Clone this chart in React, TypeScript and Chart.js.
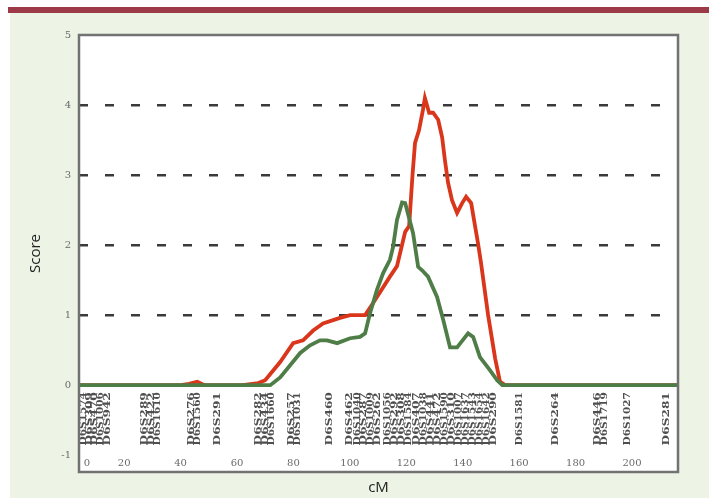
import React, { useEffect, useRef } from "react";
import { Chart, registerables } from "chart.js";

Chart.register(...registerables);

// ---- data ----
const redCM = [4, 40, 43, 45.9, 48.5, 62, 67.5, 70, 75.3, 79.9, 83.4, 87, 90.5, 96.5, 100.1, 105.4, 108.2, 114.2, 116.7, 119.6, 121.0, 122.2, 123.1, 124.5, 125.9, 126.6, 128.1, 129.5, 131.3, 132.7, 133.7, 134.8, 136.2, 138.0, 139.8, 141.2, 143.0, 144.0, 145.4, 146.5, 149.0, 151.5, 153.2, 155, 216.3];
const redScore = [0, 0, 0.02, 0.05, 0, 0, 0.03, 0.07, 0.33, 0.6, 0.64, 0.78, 0.88, 0.96, 1.0, 1.0, 1.17, 1.55, 1.7, 2.19, 2.27, 3.0, 3.46, 3.64, 3.93, 4.1, 3.89, 3.89, 3.79, 3.54, 3.21, 2.89, 2.64, 2.46, 2.6, 2.69, 2.6, 2.36, 2.03, 1.74, 1.0, 0.38, 0.05, 0, 0];

const greenCM = [4, 66, 71.8, 75.3, 82.4, 85.9, 89.4, 91.9, 95.5, 100.1, 103.6, 105.4, 107.1, 109.6, 111.8, 114.2, 115.3, 116.7, 118.5, 119.6, 122.4, 124.2, 125.6, 127.7, 130.9, 133.1, 135.5, 138.0, 141.9, 143.7, 146.1, 149.7, 152.2, 154, 216.3];
const greenScore = [0, 0, 0, 0.11, 0.46, 0.57, 0.64, 0.64, 0.6, 0.67, 0.69, 0.74, 1.02, 1.36, 1.6, 1.79, 1.97, 2.36, 2.61, 2.6, 2.17, 1.69, 1.64, 1.55, 1.26, 0.93, 0.54, 0.54, 0.74, 0.69, 0.4, 0.21, 0.07, 0, 0];

const yTickValues = [-1, 0, 1, 2, 3, 4, 5];
const dashedLevels = [1, 2, 3, 4];
const xTickValues = [0, 20, 40, 60, 80, 100, 120, 140, 160, 180, 200];

const markerNames = [
  "D6S1574", "D6S309", "D6S470", "D6S1006", "D6S942",
  "D6S289", "D6S422", "D6S1610",
  "D6S276", "D6S1560", "D6S291",
  "D6S282", "D6S434", "D6S1660",
  "D6S257", "D6S1031",
  "D6S460", "D6S462", "D6S1040", "D6S287", "D6S1009", "D6S262",
  "D6S1056", "D6S292", "D6S308", "D6S1584", "D6S407", "D6S1038", "D6S441", "D6S472",
  "D6S1590", "D6S310", "D6S1007", "D6S1637", "D6S1543", "D6S1654", "D6S1642", "D6S290",
  "D6S1581", "D6S264", "D6S446", "D6S1719", "D6S1027", "D6S281",
];
const markerCM = [
  5.5, 7.6, 9.7, 11.8, 14.0,
  27.4, 29.9, 32.0,
  44.1, 46.2, 53.3,
  67.5, 70.0, 72.4,
  79.5, 81.6,
  93.0, 100.1, 102.6, 105.0, 107.5, 110.0,
  113.5, 116.0, 118.5, 121.0, 123.5, 126.0, 128.5, 131.0,
  133.5, 136.0, 138.5, 141.0, 143.5, 146.0, 148.5, 151.0,
  160.3, 173.1, 188.0, 190.4, 198.6, 212.4,
];

const X_MIN = 4;
const X_MAX = 216.3;
const Y_MIN = -1.24;
const Y_MAX = 5;

const framePlugin = {
  id: "framePlugin",
  beforeDraw(chart: any) {
    const { ctx, chartArea: a } = chart;
    ctx.save();
    ctx.fillStyle = "#ffffff";
    ctx.fillRect(a.left, a.top, a.right - a.left, a.bottom - a.top);
    ctx.restore();
  },
  afterDraw(chart: any) {
    const { ctx, chartArea: a, scales } = chart;
    const xs = scales.x;
    const ys = scales.y;
    ctx.save();
    // x tick labels drawn inside the frame
    ctx.font = '10px "DejaVu Serif"';
    ctx.fillStyle = "#6a6a6a";
    ctx.textAlign = "center";
    ctx.textBaseline = "middle";
    const ty = ys.getPixelForValue(-1) + 8;
    xTickValues.forEach((v) => {
      let px = xs.getPixelForValue(v);
      if (px < a.left + 8) px = a.left + 8;
      ctx.fillText(String(v), px, ty);
    });
    // marker names, rotated
    ctx.font = 'bold 9px "DejaVu Serif"';
    ctx.fillStyle = "#4e4e4e";
    ctx.textAlign = "left";
    const yBase = ys.getPixelForValue(-0.86);
    const yTop = ys.getPixelForValue(-0.1);
    const len = yBase - yTop;
    markerNames.forEach((name, i) => {
      const px = xs.getPixelForValue(markerCM[i]);
      const w = ctx.measureText(name).width;
      ctx.save();
      ctx.translate(px, yBase);
      ctx.rotate(-Math.PI / 2);
      ctx.scale(len / w, 1);
      ctx.fillText(name, 0, 0);
      ctx.restore();
    });
    // frame
    ctx.strokeStyle = "#727272";
    ctx.lineWidth = 2.5;
    ctx.strokeRect(a.left, a.top, a.right - a.left, a.bottom - a.top);
    ctx.restore();
  },
};

export default function App() {
  const canvasRef = useRef<HTMLCanvasElement | null>(null);

  useEffect(() => {
    if (!canvasRef.current) return;
    const chart = new Chart(canvasRef.current, {
      type: "line",
      data: {
        datasets: [
          {
            label: "green",
            data: greenCM.map((x, i) => ({ x, y: greenScore[i] })),
            borderColor: "#4f7d47",
            borderWidth: 3.8,
            pointRadius: 0,
            tension: 0,
            fill: false,
          },
          {
            label: "red",
            data: redCM.map((x, i) => ({ x, y: redScore[i] })),
            borderColor: "#d9361c",
            borderWidth: 3.8,
            pointRadius: 0,
            tension: 0,
            fill: false,
          },
        ],
      },
      options: {
        animation: false,
        responsive: false,
        maintainAspectRatio: false,
        layout: { padding: { left: 0, top: 35, right: 31, bottom: 0 } },
        plugins: { legend: { display: false }, tooltip: { enabled: false } },
        scales: {
          x: {
            type: "linear",
            min: X_MIN,
            max: X_MAX,
            ticks: { display: false },
            grid: { display: false },
            border: { display: false },
            title: {
              display: true,
              text: "cM",
              color: "#222",
              font: { family: '"Open Sans"', size: 15 },
              padding: { top: 0, bottom: 1 },
            },
            afterFit: (s: any) => {
              s.height = 26;
            },
          },
          y: {
            type: "linear",
            min: Y_MIN,
            max: Y_MAX,
            afterBuildTicks: (s: any) => {
              s.ticks = yTickValues.map((v) => ({ value: v }));
            },
            ticks: {
              color: "#6a6a6a",
              font: { family: '"DejaVu Serif"', size: 10 },
              padding: 8,
              callback: (v: any) => String(v),
            },
            grid: {
              drawTicks: false,
              lineWidth: 2.5,
              color: (c: any) =>
                c.tick && dashedLevels.includes(c.tick.value) ? "#3a3a3a" : "rgba(0,0,0,0)",
            },
            border: { display: false, dash: [9, 17] },
            title: {
              display: true,
              text: "Score",
              color: "#222",
              font: { family: '"Open Sans"', size: 15 },
              padding: { top: 27, bottom: 0 },
            },
            afterFit: (s: any) => {
              s.width = 79;
            },
          },
        },
      },
      plugins: [framePlugin],
    } as any);
    return () => chart.destroy();
  }, []);

  return (
    <div style={{ position: "fixed", left: 0, top: 0, width: 709, height: 498, background: "#ffffff", overflow: "hidden" }}>
      <div style={{ position: "absolute", left: 8, top: 7, width: 701, height: 6, background: "#9d3a49" }} />
      <div style={{ position: "absolute", left: 10, top: 13, width: 699, height: 485, background: "#edf3e5" }} />
      <canvas ref={canvasRef} width={709} height={498} style={{ position: "absolute", left: 0, top: 0, width: 709, height: 498 }} />
    </div>
  );
}
